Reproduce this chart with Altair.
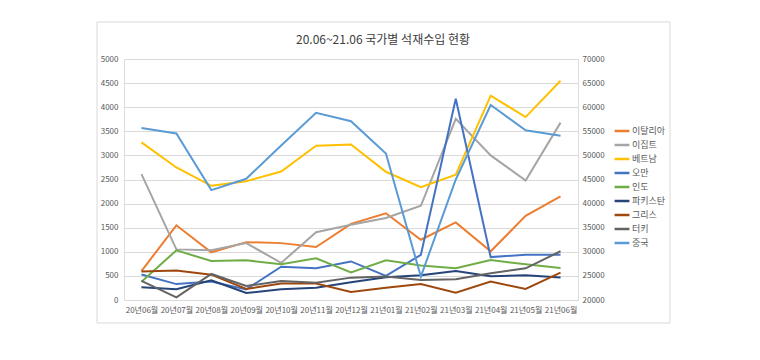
import altair as alt
import pandas as pd

months = ["20년06월", "20년07월", "20년08월", "20년09월", "20년10월", "20년11월", "20년12월",
          "21년01월", "21년02월", "21년03월", "21년04월", "21년05월", "21년06월"]
countries = ["이탈리아", "이집트", "베트남", "오만", "인도", "파키스탄", "그리스", "터키", "중국"]
colors = ["#ED7D31", "#A5A5A5", "#FFC000", "#4472C4", "#70AD47", "#264478", "#9E480E", "#636363", "#5B9BD5"]

italy = [600, 1550, 990, 1200, 1180, 1100, 1580, 1800, 1250, 1610, 1010, 1745, 2150]
egypt = [2610, 1050, 1030, 1180, 770, 1405, 1560, 1700, 1955, 3760, 3000, 2480, 3680]
vietnam = [3270, 2750, 2370, 2465, 2665, 3200, 3225, 2660, 2340, 2600, 4240, 3795, 4550]
oman = [530, 330, 385, 220, 690, 660, 800, 500, 935, 4175, 890, 940, 940]
india = [380, 1030, 810, 825, 740, 865, 570, 825, 715, 660, 830, 740, 665]
pakistan = [263, 222, 410, 145, 222, 256, 367, 470, 512, 602, 492, 512, 465]
greece = [590, 610, 526, 230, 340, 340, 166, 256, 332, 152, 381, 229, 568]
turkey = [395, 55, 540, 290, 395, 360, 464, 485, 415, 430, 554, 658, 1011]
china = [55700, 54550, 42800, 45150, 52050, 58850, 57100, 50400, 24850, 45000, 60450, 55200, 54100]

left_series = [italy, egypt, vietnam, oman, india, pakistan, greece, turkey]
rows = []
for name, vals in zip(countries[:8], left_series):
    for m, v in zip(months, vals):
        rows.append({"월": m, "국가": name, "값": v})
left_df = pd.DataFrame(rows)
china_df = pd.DataFrame({"월": months, "국가": "중국", "값": china})

FONT = "Noto Sans CJK KR"
TXT = "#595959"

x_enc = alt.X("월:N", sort=months, scale=alt.Scale(type="point", padding=0.5),
              axis=alt.Axis(title=None, labelAngle=0, labelFontSize=8, labelColor=TXT,
                            labelFont=FONT, ticks=False, domain=False, labelPadding=6))

color_enc = alt.Color("국가:N", scale=alt.Scale(domain=countries, range=colors),
                      legend=alt.Legend(orient="none", legendX=489, legendY=63, title=None,
                                        symbolType="stroke", symbolSize=220,
                                        symbolStrokeWidth=2.5, labelFontSize=9,
                                        labelColor=TXT, labelFont=FONT, rowPadding=0,
                                        labelOffset=1))

left = alt.Chart(left_df).mark_line(strokeWidth=2).encode(
    x=x_enc,
    y=alt.Y("값:Q", scale=alt.Scale(domain=[0, 5000]),
            axis=alt.Axis(title=None, values=list(range(0, 5001, 500)), format="d",
                          labelFontSize=8, labelColor=TXT, labelFont=FONT, ticks=False,
                          domain=False, gridColor="#D9D9D9", labelPadding=6)),
    color=color_enc,
)

right = alt.Chart(china_df).mark_line(strokeWidth=2).encode(
    x=x_enc,
    y=alt.Y("값:Q", scale=alt.Scale(domain=[20000, 70000]),
            axis=alt.Axis(title=None, orient="right", values=list(range(20000, 70001, 5000)),
                          format="d", labelFontSize=8, labelColor=TXT, labelFont=FONT,
                          ticks=False, domain=False, grid=False, labelPadding=4)),
    color=alt.Color("국가:N", scale=alt.Scale(domain=countries, range=colors)),
)

frame = alt.Chart(alt.Data(values=[{}])).mark_rect(fill=None, stroke="#D9D9D9", strokeWidth=1).encode(
    x=alt.value(-27), x2=alt.value(546), y=alt.value(-37), y2=alt.value(264)
)

chart = alt.layer(frame, left, right).resolve_scale(y="independent").properties(
    width=454, height=241,
    autosize=alt.AutoSizeParams(type="none"),
    padding={"left": 116, "top": 51, "right": 174, "bottom": 52},
    title=alt.TitleParams("20.06~21.06 국가별 석재수입 현황", font=FONT, fontSize=12,
                          fontWeight="normal", color="#404040", anchor="middle", dx=32,
                          offset=-25),
).configure_view(stroke="#9DC3E6", strokeWidth=1).configure(background="white")

chart.save("out.html", embed_options={"renderer": "svg", "actions": False})
